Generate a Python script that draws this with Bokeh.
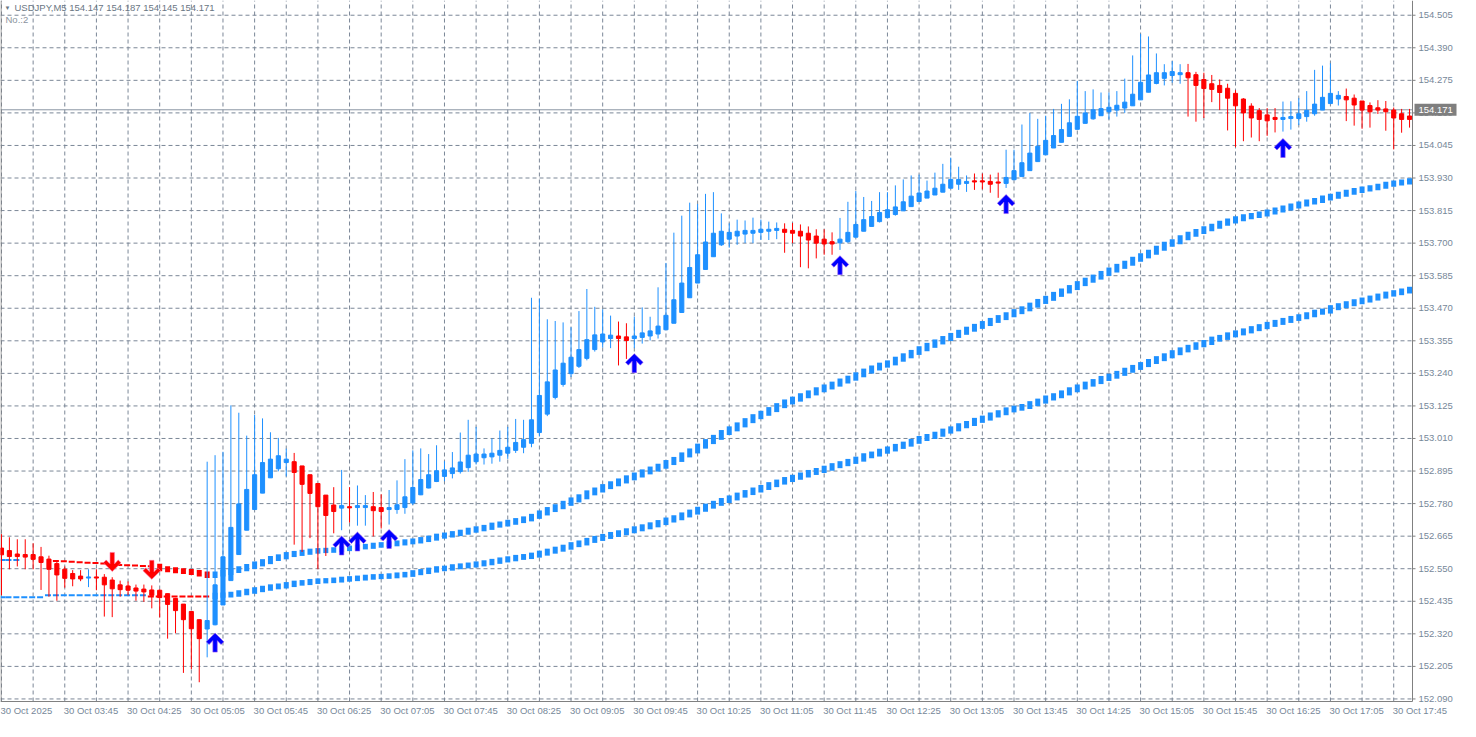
from bokeh.plotting import figure
from bokeh.models import Range1d, Label, ColumnDataSource
from bokeh.core.properties import value
from bokeh.embed import file_html
from bokeh.resources import INLINE

# ---------------- data ----------------
symbol_title = "USDJPY,M5"
header_ohlc = ["154.147", "154.187", "154.145", "154.171"]
sub_title = "No.:2"
current_price = 154.171
day_label = "30 Oct"
date_label = "30 Oct 2025"
time_labels = ["03:45", "04:25", "05:05", "05:45", "06:25", "07:05", "07:45", "08:25",
               "09:05", "09:45", "10:25", "11:05", "11:45", "12:25", "13:05", "13:45",
               "14:25", "15:05", "15:45", "16:25", "17:05", "17:45"]
bars_per_label = 8
bars_per_vgrid = 4
price_tick_start = 152.090
price_tick_step = 0.115
n_price_ticks = 22

ha_open = [
    152.623, 152.614, 152.602, 152.600, 152.600, 152.592, 152.584, 152.568, 152.548, 152.533,
    152.524, 152.517, 152.521, 152.520, 152.510, 152.493, 152.489, 152.482, 152.478, 152.475,
    152.474, 152.462, 152.445, 152.425, 152.399, 152.370, 152.337, 152.352, 152.422, 152.508,
    152.600, 152.686, 152.759, 152.817, 152.871, 152.903, 152.925, 152.928, 152.913, 152.882,
    152.851, 152.810, 152.775, 152.764, 152.769, 152.766, 152.766, 152.769, 152.766, 152.759,
    152.759, 152.766, 152.782, 152.811, 152.835, 152.858, 152.876, 152.886, 152.893, 152.907,
    152.928, 152.942, 152.945, 152.951, 152.958, 152.968, 152.979, 152.993, 153.031, 153.096,
    153.155, 153.201, 153.239, 153.265, 153.293, 153.324, 153.351, 153.363, 153.372, 153.369,
    153.363, 153.367, 153.372, 153.379, 153.394, 153.417, 153.455, 153.507, 153.559, 153.607,
    153.652, 153.694, 153.714, 153.725, 153.732, 153.735, 153.738, 153.742, 153.745, 153.749,
    153.745, 153.742, 153.735, 153.725, 153.714, 153.705, 153.701, 153.705, 153.721, 153.742,
    153.759, 153.776, 153.790, 153.801, 153.814, 153.829, 153.847, 153.859, 153.870, 153.880,
    153.894, 153.908, 153.911, 153.920, 153.920, 153.918, 153.916, 153.911, 153.924, 153.935,
    153.956, 153.988, 154.012, 154.036, 154.056, 154.077, 154.102, 154.123, 154.139, 154.150,
    154.164, 154.170, 154.177, 154.185, 154.206, 154.233, 154.264, 154.282, 154.292, 154.295,
    154.302, 154.295, 154.278, 154.263, 154.257, 154.247, 154.229, 154.209, 154.184, 154.168,
    154.153, 154.144, 154.137, 154.140, 154.140, 154.147, 154.157, 154.170, 154.193, 154.209,
    154.218, 154.212, 154.202, 154.186, 154.178, 154.174, 154.170, 154.157, 154.149]

ha_high = [
    152.672, 152.661, 152.654, 152.654, 152.640, 152.627, 152.596, 152.578, 152.558, 152.545,
    152.545, 152.548, 152.548, 152.531, 152.520, 152.508, 152.505, 152.494, 152.494, 152.491,
    152.477, 152.462, 152.447, 152.425, 152.399, 152.370, 152.928, 152.951, 152.963, 153.127,
    153.101, 153.020, 153.093, 153.081, 153.032, 153.012, 152.974, 152.959, 152.913, 152.882,
    152.851, 152.810, 152.838, 152.899, 152.838, 152.844, 152.810, 152.821, 152.813, 152.828,
    152.862, 152.937, 152.968, 152.975, 152.955, 152.986, 152.930, 152.962, 153.031, 153.076,
    153.051, 152.975, 153.010, 153.038, 153.051, 153.079, 153.076, 153.507, 153.504, 153.431,
    153.425, 153.420, 153.403, 153.460, 153.538, 153.475, 153.466, 153.444, 153.423, 153.417,
    153.440, 153.473, 153.440, 153.544, 153.630, 153.737, 153.797, 153.843, 153.838, 153.874,
    153.880, 153.805, 153.770, 153.783, 153.780, 153.790, 153.783, 153.776, 153.773, 153.770,
    153.771, 153.766, 153.759, 153.749, 153.749, 153.738, 153.789, 153.846, 153.884, 153.863,
    153.849, 153.880, 153.880, 153.904, 153.925, 153.939, 153.942, 153.921, 153.949, 153.980,
    154.002, 153.970, 153.939, 153.946, 153.946, 153.942, 153.949, 154.030, 154.030, 154.119,
    154.160, 154.139, 154.150, 154.174, 154.192, 154.208, 154.273, 154.237, 154.243, 154.232,
    154.232, 154.237, 154.281, 154.363, 154.439, 154.430, 154.370, 154.332, 154.343, 154.332,
    154.333, 154.305, 154.302, 154.294, 154.278, 154.263, 154.240, 154.212, 154.194, 154.177,
    154.177, 154.177, 154.200, 154.201, 154.212, 154.237, 154.312, 154.327, 154.335, 154.237,
    154.246, 154.225, 154.202, 154.197, 154.205, 154.202, 154.179, 154.174, 154.174]

ha_low = [
    152.457, 152.548, 152.558, 152.548, 152.548, 152.475, 152.451, 152.437, 152.483, 152.488,
    152.506, 152.485, 152.474, 152.381, 152.379, 152.451, 152.456, 152.437, 152.433, 152.410,
    152.378, 152.303, 152.322, 152.182, 152.195, 152.149, 152.237, 152.350, 152.422, 152.508,
    152.600, 152.686, 152.759, 152.817, 152.871, 152.894, 152.876, 152.635, 152.609, 152.658,
    152.548, 152.595, 152.675, 152.686, 152.713, 152.702, 152.702, 152.664, 152.692, 152.706,
    152.744, 152.744, 152.775, 152.810, 152.834, 152.856, 152.859, 152.869, 152.886, 152.892,
    152.918, 152.918, 152.921, 152.928, 152.938, 152.959, 152.958, 152.979, 153.017, 153.089,
    153.148, 153.193, 153.227, 153.259, 153.286, 153.317, 153.331, 153.329, 153.268, 153.291,
    153.329, 153.345, 153.356, 153.363, 153.393, 153.417, 153.455, 153.507, 153.559, 153.607,
    153.652, 153.690, 153.684, 153.694, 153.700, 153.700, 153.711, 153.711, 153.714, 153.666,
    153.700, 153.615, 153.611, 153.646, 153.659, 153.659, 153.676, 153.701, 153.721, 153.742,
    153.759, 153.773, 153.788, 153.797, 153.814, 153.829, 153.847, 153.859, 153.870, 153.880,
    153.894, 153.888, 153.881, 153.888, 153.890, 153.878, 153.860, 153.895, 153.924, 153.935,
    153.956, 153.988, 154.012, 154.036, 154.056, 154.077, 154.102, 154.123, 154.136, 154.149,
    154.137, 154.147, 154.160, 154.185, 154.206, 154.233, 154.261, 154.257, 154.267, 154.263,
    154.147, 154.129, 154.142, 154.198, 154.170, 154.098, 154.039, 154.060, 154.073, 154.060,
    154.079, 154.091, 154.094, 154.101, 154.117, 154.129, 154.150, 154.170, 154.193, 154.186,
    154.131, 154.115, 154.104, 154.108, 154.156, 154.097, 154.031, 154.090, 154.108]

ha_close = [
    152.599, 152.593, 152.593, 152.591, 152.583, 152.572, 152.548, 152.528, 152.516, 152.514,
    152.514, 152.521, 152.517, 152.493, 152.479, 152.476, 152.474, 152.471, 152.468, 152.456,
    152.448, 152.424, 152.402, 152.370, 152.338, 152.303, 152.367, 152.493, 152.592, 152.696,
    152.779, 152.830, 152.882, 152.925, 152.937, 152.949, 152.937, 152.890, 152.848, 152.816,
    152.769, 152.738, 152.752, 152.773, 152.765, 152.773, 152.773, 152.755, 152.752, 152.766,
    152.776, 152.804, 152.837, 152.865, 152.882, 152.896, 152.899, 152.906, 152.927, 152.951,
    152.955, 152.955, 152.958, 152.968, 152.979, 152.996, 153.006, 153.076, 153.162, 153.210,
    153.252, 153.276, 153.297, 153.324, 153.359, 153.376, 153.379, 153.375, 153.363, 153.356,
    153.372, 153.383, 153.390, 153.407, 153.445, 153.500, 153.559, 153.614, 153.659, 153.704,
    153.735, 153.742, 153.738, 153.742, 153.745, 153.745, 153.749, 153.749, 153.752, 153.738,
    153.735, 153.725, 153.711, 153.700, 153.697, 153.697, 153.714, 153.738, 153.766, 153.783,
    153.794, 153.808, 153.818, 153.828, 153.846, 153.866, 153.877, 153.884, 153.894, 153.908,
    153.925, 153.925, 153.918, 153.916, 153.916, 153.908, 153.912, 153.932, 153.956, 153.984,
    154.018, 154.042, 154.063, 154.080, 154.101, 154.125, 154.148, 154.160, 154.171, 154.175,
    154.180, 154.187, 154.198, 154.226, 154.268, 154.294, 154.302, 154.302, 154.306, 154.302,
    154.284, 154.257, 154.246, 154.243, 154.232, 154.212, 154.185, 154.160, 154.142, 154.137,
    154.132, 154.137, 154.144, 154.147, 154.157, 154.169, 154.191, 154.215, 154.229, 154.222,
    154.206, 154.188, 154.170, 154.164, 154.170, 154.164, 154.142, 154.137, 154.137]

upper_band = [
    152.581, 152.581, 152.581, None, None, None, None, 152.577, 152.576, 152.575,
    152.573, 152.571, 152.570, 152.568, 152.566, 152.563, 152.562, 152.561, 152.560, 152.559,
    152.550, 152.546, 152.543, 152.540, 152.537, 152.531, 152.526, 152.531, 152.537, 152.544,
    152.550, 152.558, 152.567, 152.575, 152.586, 152.592, 152.600, 152.604, 152.608, 152.612,
    152.614, 152.615, 152.617, 152.621, 152.623, 152.627, 152.629, 152.633, 152.635, 152.638,
    152.641, 152.645, 152.648, 152.653, 152.658, 152.665, 152.669, 152.674, 152.679, 152.686,
    152.691, 152.696, 152.704, 152.708, 152.714, 152.720, 152.726, 152.735, 152.747, 152.759,
    152.769, 152.781, 152.793, 152.804, 152.818, 152.828, 152.840, 152.850, 152.860, 152.871,
    152.881, 152.892, 152.902, 152.912, 152.925, 152.936, 152.952, 152.966, 152.983, 152.999,
    153.014, 153.031, 153.044, 153.058, 153.073, 153.087, 153.099, 153.112, 153.126, 153.139,
    153.149, 153.161, 153.171, 153.182, 153.192, 153.202, 153.213, 153.223, 153.235, 153.248,
    153.259, 153.269, 153.277, 153.290, 153.302, 153.314, 153.327, 153.339, 153.351, 153.363,
    153.374, 153.385, 153.396, 153.406, 153.416, 153.427, 153.437, 153.447, 153.458, 153.468,
    153.481, 153.494, 153.505, 153.519, 153.531, 153.543, 153.557, 153.569, 153.580, 153.593,
    153.605, 153.618, 153.629, 153.643, 153.655, 153.668, 153.682, 153.696, 153.705, 153.719,
    153.731, 153.741, 153.751, 153.760, 153.770, 153.778, 153.786, 153.793, 153.798, 153.803,
    153.810, 153.817, 153.824, 153.831, 153.838, 153.845, 153.851, 153.859, 153.866, 153.873,
    153.880, 153.886, 153.891, 153.896, 153.901, 153.908, 153.912, 153.916, 153.920]
upper_state = "BBB" + "----" + "R" * 20 + "B" * 152
upper_thick_from = 20

lower_band = [
    152.449, 152.449, 152.449, 152.449, 152.449, 152.449, 152.456, 152.456, 152.456, 152.456,
    152.456, 152.456, 152.456, 152.456, 152.456, 152.456, 152.456, 152.456, 152.456, 152.452,
    152.452, 152.452, 152.452, 152.452, 152.452, 152.452, 152.452, 152.456, 152.457, 152.460,
    152.465, 152.470, 152.476, 152.481, 152.486, 152.489, 152.494, 152.499, 152.501, 152.505,
    152.507, 152.508, 152.510, 152.513, 152.515, 152.517, 152.520, 152.522, 152.523, 152.525,
    152.528, 152.530, 152.536, 152.540, 152.545, 152.550, 152.552, 152.557, 152.560, 152.563,
    152.567, 152.571, 152.576, 152.581, 152.585, 152.590, 152.593, 152.598, 152.605, 152.612,
    152.619, 152.626, 152.635, 152.641, 152.650, 152.657, 152.664, 152.671, 152.677, 152.684,
    152.691, 152.698, 152.705, 152.713, 152.722, 152.730, 152.740, 152.750, 152.760, 152.771,
    152.781, 152.791, 152.800, 152.810, 152.819, 152.828, 152.837, 152.847, 152.856, 152.865,
    152.873, 152.881, 152.890, 152.897, 152.905, 152.914, 152.921, 152.929, 152.937, 152.949,
    152.955, 152.965, 152.973, 152.982, 152.990, 153.000, 153.010, 153.017, 153.025, 153.036,
    153.044, 153.055, 153.063, 153.074, 153.082, 153.093, 153.101, 153.111, 153.117, 153.123,
    153.133, 153.142, 153.153, 153.161, 153.171, 153.182, 153.192, 153.202, 153.211, 153.222,
    153.230, 153.240, 153.251, 153.261, 153.271, 153.282, 153.292, 153.302, 153.313, 153.323,
    153.332, 153.341, 153.349, 153.361, 153.367, 153.376, 153.383, 153.390, 153.398, 153.405,
    153.413, 153.420, 153.427, 153.434, 153.440, 153.447, 153.456, 153.460, 153.472, 153.479,
    153.486, 153.493, 153.499, 153.506, 153.513, 153.520, 153.525, 153.531, 153.537]
lower_state = "B" * 19 + "R" * 8 + "B" * 152
lower_thick_from = 27

buy_bars = [27, 43, 45, 49, 80, 106, 127, 162]
buy_prices = [152.289, 152.632, 152.646, 152.655, 153.276, 153.622, 153.838, 154.036]
sell_bars = [14, 19]
sell_prices = [152.574, 152.546]

# ---------------- layout ----------------
BLUE = "#1E90FF"
RED = "#FF0000"
GRID = "#7b8797"
TXT = "#778899"
FRAME = "#808080"
FONT = "Liberation Sans"
FS = "9.5px"

W, H = 1460, 721
AX_R, AX_B = 48, 20
CHART_W, CHART_H = W - AX_R, H - AX_B
n = len(ha_open)
x_start, x_chart_end = -0.125, n - 0.625
y_chart_start, y_end = 152.081, 154.557
ppb = CHART_W / (x_chart_end - x_start)
ppp = CHART_H / (y_end - y_chart_start)
x_total_end = x_start + W / ppb
y_total_start = y_chart_start - AX_B / ppp

p = figure(width=W, height=H, x_range=Range1d(x_start, x_total_end),
           y_range=Range1d(y_total_start, y_end),
           x_axis_location=None, y_axis_location=None, toolbar_location=None,
           output_backend="svg", min_border=0,
           background_fill_color="white", border_fill_color="white")
p.outline_line_color = None
p.grid.grid_line_color = None

price_ticks = [round(price_tick_start + i * price_tick_step, 3) for i in range(n_price_ticks)]
vgrid = list(range(0, n, bars_per_vgrid))

# dashed grid inside the chart area
p.segment(x0=vgrid, y0=[y_chart_start] * len(vgrid), x1=vgrid, y1=[y_end] * len(vgrid),
          line_color=GRID, line_dash="4 3", line_width=1)
p.segment(x0=[x_start] * len(price_ticks), y0=price_ticks,
          x1=[x_chart_end] * len(price_ticks), y1=price_ticks,
          line_color=GRID, line_dash="4 3", line_width=1)

# current price line
p.segment(x0=[x_start], y0=[current_price], x1=[x_chart_end], y1=[current_price],
          line_color="#8a96a3", line_width=1)

# chart frame: left edge, price-scale line, time-scale line
p.segment(x0=[x_start + 0.5 / ppb, x_chart_end, x_start],
          y0=[y_chart_start, y_chart_start, y_chart_start],
          x1=[x_start + 0.5 / ppb, x_chart_end, x_chart_end],
          y1=[y_end, y_end, y_chart_start], line_color=FRAME, line_width=1)

# price scale: ticks and labels
p.segment(x0=[x_chart_end] * len(price_ticks), y0=price_ticks,
          x1=[x_chart_end + 3 / ppb] * len(price_ticks), y1=price_ticks,
          line_color=FRAME, line_width=1)
p.text(x=[x_chart_end + 6 / ppb] * len(price_ticks), y=price_ticks,
       text=["%.3f" % t for t in price_ticks], text_align="left", text_baseline="middle",
       text_font=value(FONT), text_font_size=value(FS), text_color=TXT)

# time scale labels (each label starts at its bar)
label_bars = [0] + [bars_per_label * (i + 1) for i in range(len(time_labels))]
label_texts = [date_label] + [day_label + " " + t for t in time_labels]
p.text(x=[b - 1 / ppb for b in label_bars], y=[y_chart_start - 9 / ppp] * len(label_bars),
       text=label_texts, text_align="left", text_baseline="middle",
       text_font=value(FONT), text_font_size=value(FS), text_color=TXT)

# band lines
def band(vals, states, thick_from):
    thin = dict(x0=[], x1=[], y=[], c=[])
    thick = dict(x=[], y0=[], y1=[], c=[])
    for k in range(len(vals)):
        v, s = vals[k], states[k]
        if v is None or s == "-":
            continue
        col = BLUE if s == "B" else RED
        if k < thick_from:
            thin["x0"].append(max(k - 0.5, x_start)); thin["x1"].append(k + 0.5)
            thin["y"].append(v); thin["c"].append(col)
        else:
            prev = vals[k - 1] if vals[k - 1] is not None else v
            thick["x"].append(k); thick["y0"].append(prev)
            thick["y1"].append(v); thick["c"].append(col)
    return thin, thick

for vals, st, tf in [(upper_band, upper_state, upper_thick_from),
                     (lower_band, lower_state, lower_thick_from)]:
    thin, thick = band(vals, st, tf)
    p.segment(x0="x0", y0="y", x1="x1", y1="y", line_color="c", line_width=2,
              line_dash="6 2", source=ColumnDataSource(thin))
    p.segment(x0="x", y0="y0", x1="x", y1="y1", line_color="c", line_width=5,
              line_cap="square", source=ColumnDataSource(thick))

# candles
bars = list(range(n))
ccol = [BLUE if c > o else RED for o, c in zip(ha_open, ha_close)]
csrc = ColumnDataSource(dict(x=bars, high=ha_high, low=ha_low,
                             top=[max(o, c) for o, c in zip(ha_open, ha_close)],
                             bottom=[min(o, c) for o, c in zip(ha_open, ha_close)],
                             color=ccol))
p.segment(x0="x", y0="low", x1="x", y1="high", line_color="color", line_width=1, source=csrc)
p.vbar(x="x", width=0.52, top="top", bottom="bottom", fill_color="color",
       line_color="color", line_width=1, source=csrc)

# signal arrows
shape = [(0, 9.5), (8.8, 0.8), (6, -2), (2.2, 2), (2.2, -9.5), (-2.2, -9.5), (-2.2, 2),
         (-6, -2), (-8.8, 0.8)]
def arrows(bs, ps, up):
    sgn = 1 if up else -1
    xs = [[b + dx / ppb for dx, dy in shape] for b in bs]
    ys = [[pr + sgn * dy / ppp for dx, dy in shape] for pr in ps]
    return xs, ys
bx, by = arrows(buy_bars, buy_prices, True)
p.patches(bx, by, fill_color="#0000FF", line_color="#9b59f0", line_alpha=0.6, line_width=1)
sx, sy = arrows(sell_bars, sell_prices, False)
p.patches(sx, sy, fill_color="#FF0000", line_color="#ff6fa0", line_alpha=0.6, line_width=1)

# current price tag on the price scale
p.rect(x=[x_chart_end + 23 / ppb], y=[current_price], width=42, height=12,
       width_units="screen", height_units="screen", fill_color="#7f7f7f", line_color=None)
p.text(x=[x_chart_end + 6 / ppb], y=[current_price], text=["%.3f" % current_price],
       text_align="left", text_baseline="middle", text_font=value(FONT),
       text_font_size=value(FS), text_color="white")

# header texts
p.add_layout(Label(x=x_start + 4 / ppb, y=y_end - 7 / ppp, text="\u25bc", text_font=FONT,
                   text_font_size="6px", text_color="#6a7683", text_baseline="middle"))
p.add_layout(Label(x=x_start + 14 / ppb, y=y_end - 7 / ppp,
                   text=symbol_title + "  " + " ".join(header_ohlc), text_font=FONT,
                   text_font_size=FS, text_color="#6a7683", text_baseline="middle"))
p.add_layout(Label(x=x_start + 5 / ppb, y=y_end - 19 / ppp, text=sub_title, text_font=FONT,
                   text_font_size=FS, text_color="#8a949e", text_baseline="middle"))

open("out.html", "w").write(file_html(p, INLINE))
